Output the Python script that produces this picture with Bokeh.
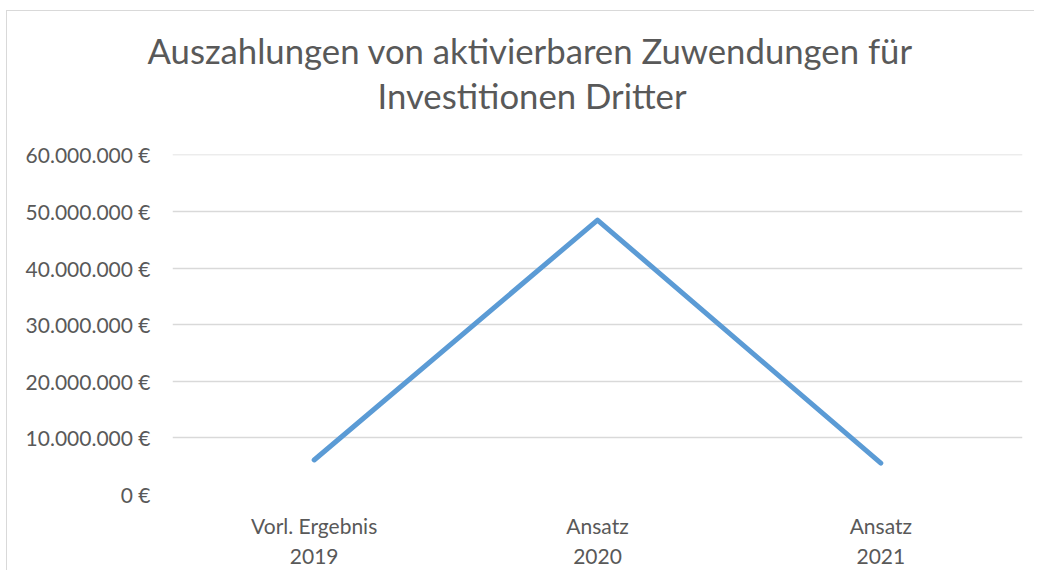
from bokeh.plotting import figure
from bokeh.models import FactorRange, Range1d, FixedTicker, CustomJSTickFormatter, Title
from bokeh.embed import file_html
from bokeh.resources import INLINE

categories = ["Vorl. Ergebnis\n2019", "Ansatz\n2020", "Ansatz\n2021"]
values = [6100000, 48470000, 5540000]
y_ticks = [0, 10000000, 20000000, 30000000, 40000000, 50000000, 60000000]
title_lines = ["Auszahlungen von aktivierbaren Zuwendungen für", "Investitionen Dritter"]

TEXT = "#595959"
FONT = "Lato"

p = figure(width=1028, height=560, output_backend="svg", toolbar_location=None,
           x_range=FactorRange(*categories), y_range=Range1d(0, 60060000),
           min_border_left=165, min_border_right=13, min_border_top=143, min_border_bottom=77,
           background_fill_color="white", border_fill_color="white")
p.outline_line_color = None
p.styles = {"border-top": "1px solid #d9d9d9", "border-left": "1px solid #d9d9d9",
            "margin-left": "6px", "margin-top": "10px"}

t2 = Title(text=title_lines[1], align="left", offset=205, text_font=FONT,
           text_font_size="34.7px", text_font_style="normal", text_color=TEXT, standoff=77)
t1 = Title(text=title_lines[0], align="left", offset=-25, text_font=FONT,
           text_font_size="34.7px", text_font_style="normal", text_color=TEXT, standoff=-72)
p.add_layout(t2, "above")
p.add_layout(t1, "above")

p.line(x=categories, y=values, line_width=5, line_color="#5B9BD5",
       line_cap="round", line_join="round")

p.xgrid.grid_line_color = None
p.ygrid.grid_line_color = "#d9d9d9"
p.ygrid.grid_line_width = 1.5
p.yaxis.ticker = FixedTicker(ticks=y_ticks)
p.yaxis.formatter = CustomJSTickFormatter(code="""
return tick.toFixed(0).replace(/\\B(?=(\\d{3})+(?!\\d))/g, ".") + " \u20ac";
""")
for ax in (p.xaxis, p.yaxis):
    ax.axis_line_color = None
    ax.major_tick_line_color = None
    ax.minor_tick_line_color = None
    ax.major_label_text_font = FONT
    ax.major_label_text_font_size = "21px"
    ax.major_label_text_color = TEXT
p.yaxis.major_label_standoff = 16
p.xaxis.major_label_standoff = 12

open("out.html", "w").write(file_html(p, INLINE))
